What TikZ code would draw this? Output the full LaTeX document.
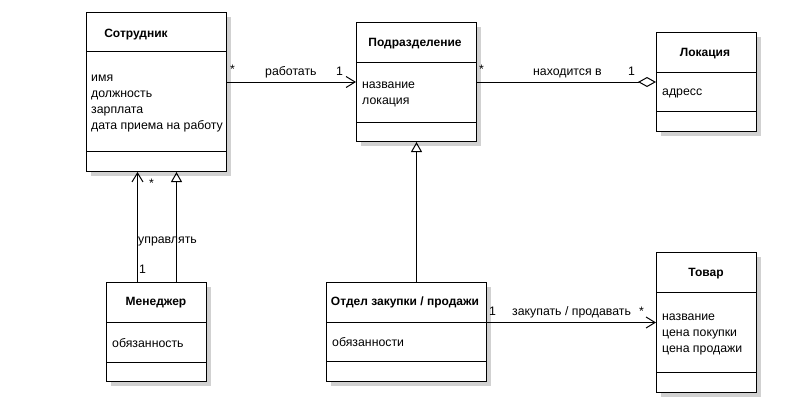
\documentclass[tikz,border=0pt]{standalone}
\usepackage{fontspec}
\setmainfont{Liberation Sans}
\usetikzlibrary{arrows.meta,shadows}
\begin{document}
\begin{tikzpicture}[x=1pt,y=-1pt,
  every node/.style={font=\fontsize{12.3}{14}\selectfont, inner sep=0pt},
  classbox/.style={draw, line width=1pt, fill=white, anchor=north west,
    drop shadow={shadow xshift=4pt, shadow yshift=-4pt, fill=black!18, opacity=1}},
  divider/.style={line width=1pt},
  title/.style={anchor=base, font=\fontsize{12}{14}\selectfont\bfseries},
  attr/.style={anchor=base west},
  lbl/.style={anchor=base west},
  conn/.style={line width=1pt},
  assoc/.style={conn, -{Straight Barb[length=9pt,width=11pt,line width=1pt]}},
  inherit/.style={conn, -{Triangle[open,length=10pt,width=11pt,line width=1pt]}},
  aggr/.style={conn, -{Diamond[open,length=18pt,width=10pt,line width=1pt]}}
]
\useasboundingbox (0,0) rectangle (800,410);
\fill[white] (0,0) rectangle (800,410);

% class boxes
\node[classbox, minimum width=140pt, minimum height=159pt] (sotr) at (86,12) {};
\node[classbox, minimum width=120pt, minimum height=119pt] (podr) at (356,22) {};
\node[classbox, minimum width=100pt, minimum height=99pt] (lok) at (656,32) {};
\node[classbox, minimum width=100pt, minimum height=99pt] (men) at (106,282) {};
\node[classbox, minimum width=160pt, minimum height=99pt] (otdel) at (326,282) {};
\node[classbox, minimum width=100pt, minimum height=140pt] (tovar) at (656,252) {};

% compartment dividers
\draw[divider] (86,51) -- (226,51) (86,151) -- (226,151);
\draw[divider] (356,62) -- (476,62) (356,122) -- (476,122);
\draw[divider] (656,72) -- (756,72) (656,111) -- (756,111);
\draw[divider] (106,322) -- (206,322) (106,362) -- (206,362);
\draw[divider] (326,322) -- (486,322) (326,361) -- (486,361);
\draw[divider] (656,292) -- (756,292) (656,372) -- (756,372);

% class names
\node[title] (tsotr) at (136,37) {Сотрудник};
\node[title] (tpodr) at (415,46) {Подразделение};
\node[title] (tlok) at (705,56.5) {Локация};
\node[title] (tmen) at (156,305.5) {Менеджер};
\node[title] (totdel) at (405,305.5) {Отдел закупки / продажи};
\node[title] (ttovar) at (706,276.5) {Товар};

% attributes
\node[attr] (a1) at (91,81) {имя};
\node[attr] (a2) at (91,97) {должность};
\node[attr] (a3) at (91,113) {зарплата};
\node[attr] (a4) at (91,129) {дата приема на работу};
\node[attr] (b1) at (362,88.5) {название};
\node[attr] (b2) at (362,104.5) {локация};
\node[attr] (c1) at (662,95) {адресс};
\node[attr] (d1) at (112,347) {обязанность};
\node[attr] (e1) at (332,346) {обязанности};
\node[attr] (f1) at (662,320) {название};
\node[attr] (f2) at (662,336) {цена покупки};
\node[attr] (f3) at (662,352) {цена продажи};

% associations
\draw[assoc] (sotr.east |- podr.west) -- (podr.west);
\draw[aggr] (podr.east) -- (lok.west);
\draw[assoc] (otdel.east |- tovar.west) -- (tovar.west);
\draw[assoc] ([xshift=-19pt]men.north) -- ([xshift=-19pt]men.north |- sotr.south);

% generalizations
\draw[inherit] ([xshift=20pt]men.north) -- ([xshift=20pt]men.north |- sotr.south);
\draw[inherit] (podr.south |- otdel.north) -- (podr.south);

% association labels
\node[lbl] (m1) at (230,73) {*};
\node[lbl] (m2) at (265,75.5) {работать};
\node[lbl] (m3) at (336,75.5) {1};
\node[lbl] (m4) at (479,73) {*};
\node[lbl] (m5) at (533,75.5) {находится в};
\node[lbl] (m6) at (628,75.5) {1};
\node[lbl] (m7) at (149,187) {*};
\node[lbl] (m8) at (138,243) {управлять};
\node[lbl] (m9) at (139,273.5) {1};
\node[lbl] (m10) at (489,315) {1};
\node[lbl] (m11) at (512,315) {закупать / продавать};
\node[lbl] (m12) at (639,315) {*};
\end{tikzpicture}
\end{document}
